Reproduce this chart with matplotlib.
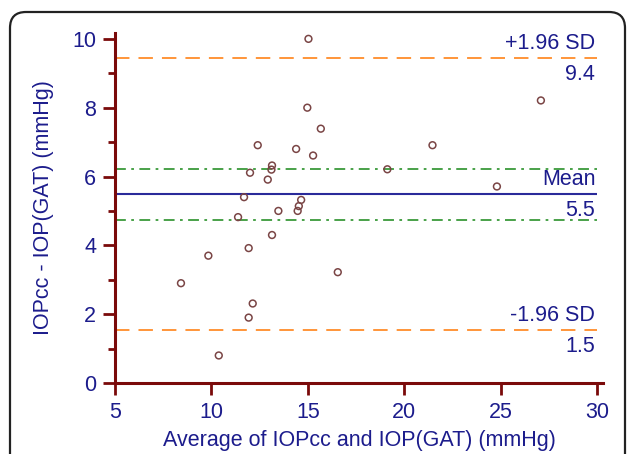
import matplotlib
matplotlib.use("Agg")
import matplotlib.pyplot as plt
from matplotlib.patches import FancyBboxPatch
from matplotlib.ticker import MultipleLocator

plt.rcParams['font.family'] = ['Liberation Sans', 'DejaVu Sans']

# average of IOPcc and IOP(GAT) vs difference
avg = [8.42, 9.84, 10.38, 11.38, 11.69, 11.93, 11.93, 12.0, 12.14, 12.4,
       12.92, 13.11, 13.14, 13.14, 13.47, 14.39, 14.47, 14.53, 14.65, 14.97,
       15.03, 15.27, 15.67, 16.55, 19.12, 21.46, 24.8, 27.08]
diff = [2.9, 3.7, 0.8, 4.82, 5.4, 3.92, 1.9, 6.11, 2.31, 6.91,
        5.91, 6.2, 6.32, 4.3, 5.0, 6.8, 5.0, 5.14, 5.32, 8.0,
        10.0, 6.61, 7.39, 3.22, 6.21, 6.91, 5.71, 8.21]

mean_diff = 5.49
upper_loa = 9.44
lower_loa = 1.54
ci_mean = [6.21, 4.74]

navy = '#1c1c8c'
spine_col = '#7a0a0a'

fig = plt.figure(figsize=(6.27, 4.54), dpi=100)
ax = fig.add_axes([115/627, 1-383/454, (603-115)/627, (383-33)/454])

# rounded panel frame (display pixels)
frame = FancyBboxPatch((10, -30), 615, 442+30, boxstyle="round,pad=0,rounding_size=16",
                       transform=None, fill=False, edgecolor='#222222', linewidth=1.6)
fig.patches.append(frame)

ax.hlines([upper_loa, lower_loa], 5, 30, colors='#ff8c2a', linestyles=(0, (8, 5)), linewidth=1.3)
ax.hlines(ci_mean, 5, 30, colors='#3a9a3a', linestyles=(0, (6, 3, 1.5, 3)), linewidth=1.3)
ax.hlines(mean_diff, 5, 30, colors='#2a2a9a', linewidth=1.5)

ax.scatter(avg, diff, s=24, facecolors='none', edgecolors='#7a4545', linewidths=1.1, zorder=3)

labels = [(upper_loa, '+1.96 SD', '9.4'), (mean_diff, 'Mean', '5.5'), (lower_loa, '-1.96 SD', '1.5')]
for yv, top, bot in labels:
    ax.annotate(top, (29.9, yv), xytext=(0, 3), textcoords='offset points',
                ha='right', va='bottom', color=navy, fontsize=15.5)
    ax.annotate(bot, (29.9, yv), xytext=(0, -4), textcoords='offset points',
                ha='right', va='top', color=navy, fontsize=15.5)

ax.set_xlim(5, 30.3)
ax.set_ylim(0, 10.17)
ax.xaxis.set_major_locator(MultipleLocator(5))
ax.yaxis.set_major_locator(MultipleLocator(2))
ax.yaxis.set_minor_locator(MultipleLocator(1))

for s in ['top', 'right']:
    ax.spines[s].set_visible(False)
for s in ['left', 'bottom']:
    ax.spines[s].set_color(spine_col)
    ax.spines[s].set_linewidth(2.2)

ax.tick_params(which='major', length=8.5, width=2, color=spine_col, labelcolor=navy, labelsize=15.5)
ax.tick_params(axis='y', which='minor', length=5, width=2, color=spine_col)
ax.tick_params(axis='y', which='major', pad=5)
ax.tick_params(axis='x', which='major', pad=5)

ax.set_xlabel('Average of IOPcc and IOP(GAT) (mmHg)', color=navy, fontsize=15.5, labelpad=5)
ax.set_ylabel('IOPcc - IOP(GAT) (mmHg)', color=navy, fontsize=15.5, labelpad=13)

fig.savefig('out.png', dpi=100)
